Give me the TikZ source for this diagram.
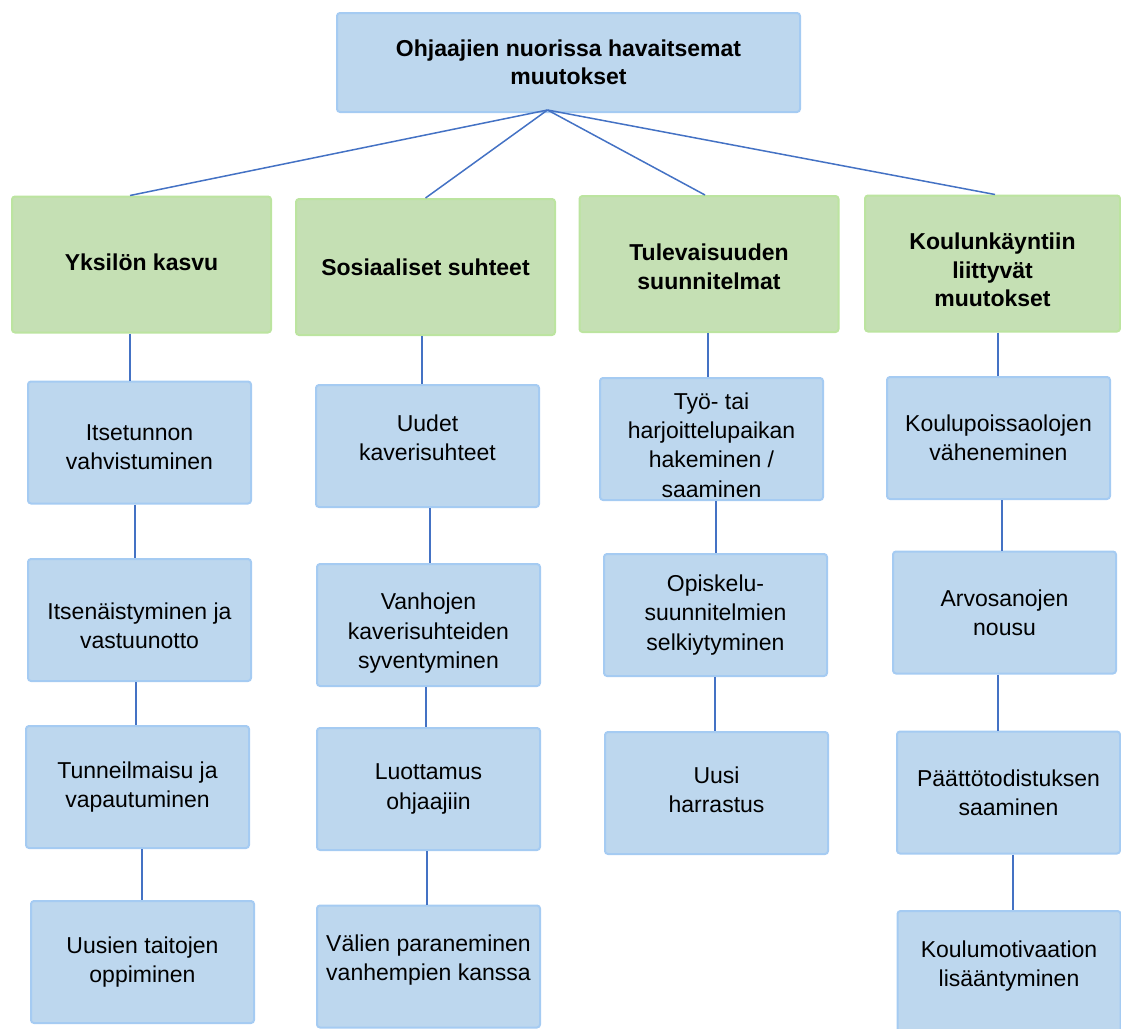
\documentclass[tikz,border=0pt]{standalone}
\usepackage{fontspec}
\setmainfont{Liberation Sans}
\usetikzlibrary{calc}
\definecolor{laatikko}{RGB}{189,215,238}
\definecolor{laatikkoreuna}{RGB}{165,203,242}
\definecolor{vihrea}{RGB}{197,224,180}
\definecolor{vihreareuna}{RGB}{188,228,160}
\definecolor{viiva}{RGB}{68,114,196}
\newcommand{\yhdista}[3]{\draw[yhteys] ([xshift=#3pt]#1.south) -- ([xshift=#3pt]#1.south |- #2.north);}

\begin{document}
\begin{tikzpicture}[x = 1pt, y = -1pt,
 sininen/.style = {fill=laatikko, draw=laatikkoreuna, line width=2pt, rounded corners=3pt,
  align=center, inner sep=0pt, minimum width=223pt, minimum height=122pt,
  font=\fontsize{23}{29.3}\selectfont},
 paa/.style = {sininen, font=\fontsize{23}{28.5}\selectfont\bfseries},
 teema/.style = {paa, fill=vihrea, draw=vihreareuna, minimum width=259pt, minimum height=136pt},
 yhteys/.style = {viiva, line width=1.5pt}]
 \useasboundingbox (0,0) rectangle (1121,1028);
 \node[paa, minimum width=463pt, minimum height=99pt] (top) at (568.5, 62.5) {Ohjaajien nuorissa havaitsemat\hspace{14pt}\\muutokset\hspace{14pt}};
 % teemat
 \node[teema] (g1) at (141.5, 264.5) {Yksilön kasvu\hspace{12pt}\\[-24.5pt]};
 \node[teema] (g2) at (425.5, 267) {Sosiaaliset suhteet};
 \node[teema] (g3) at (709, 264) {Tulevaisuuden\\suunnitelmat\\[-34pt]};
 \node[teema, minimum width=255pt] (g4) at (992.5, 263.5) {Koulunkäyntiin\\liittyvät\\muutokset\\[-41pt]};
 \coordinate (T) at ($(top.south)+(-21,-3)$);
 \draw[yhteys] (T) -- ([xshift=-11.5pt]g1.north);
 \draw[yhteys] (T) -- (g2.north);
 \draw[yhteys] (T) -- ([xshift=-4pt]g3.north);
 \draw[yhteys] (T) -- ([xshift=2.5pt]g4.north);
 % sarake 1
 \node[sininen] (b11) at (139.5, 442.5) {Itsetunnon\\vahvistuminen\\[-38pt]};
 \node[sininen] (b12) at (139.5, 620) {Itsenäistyminen ja\\vastuunotto\\[-40pt]};
 \node[sininen] (b13) at (137.5, 787) {Tunneilmaisu ja\\vapautuminen};
 \node[sininen] (b14) at (142.5, 962) {Uusien taitojen\\oppiminen};
 % sarake 2
 \node[sininen] (b21) at (427.5, 446) {Uudet\\kaverisuhteet\\[-12pt]};
 \node[sininen] (b22) at (428.5, 625) {Vanhojen\\kaverisuhteiden\\syventyminen\\[-41pt]};
 \node[sininen] (b23) at (428.5, 789) {Luottamus\\ohjaajiin};
 \node[sininen] (b24) at (428.5, 966.5) {Välien paraneminen\\vanhempien kanssa\\[-12pt]};
 % sarake 3
 \node[sininen] (b31) at (711.5, 439) {Työ- tai\\harjoittelupaikan\\hakeminen /\\saaminen\\[-41pt]};
 \node[sininen] (b32) at (715.5, 615) {Opiskelu-\\suunnitelmien\\selkiytyminen};
 \node[sininen] (b33) at (716.5, 793) {Uusi\\harrastus\\[-23pt]};
 % sarake 4
 \node[sininen] (b41) at (998.5, 438) {Koulupoissaolojen\\väheneminen};
 \node[sininen] (b42) at (1004.5, 612.5) {Arvosanojen\\nousu};
 \node[sininen] (b43) at (1008.5, 792.5) {Päättötodistuksen\\saaminen};
 \node[sininen] (b44) at (1009, 972) {Koulumotivaation\\lisääntyminen\\[-12pt]};
 \yhdista{g1}{b11}{-11.5} \yhdista{b11}{b12}{-4.5} \yhdista{b12}{b13}{-3.5} \yhdista{b13}{b14}{4.5}
 \yhdista{g2}{b21}{-3.5} \yhdista{b21}{b22}{2.5} \yhdista{b22}{b23}{-2.5} \yhdista{b23}{b24}{-1.5}
 \yhdista{g3}{b31}{-1} \yhdista{b31}{b32}{4.5} \yhdista{b32}{b33}{-0.5}
 \yhdista{g4}{b41}{5.5} \yhdista{b41}{b42}{3.5} \yhdista{b42}{b43}{-6.5} \yhdista{b43}{b44}{4.5}
\end{tikzpicture}
\end{document}
